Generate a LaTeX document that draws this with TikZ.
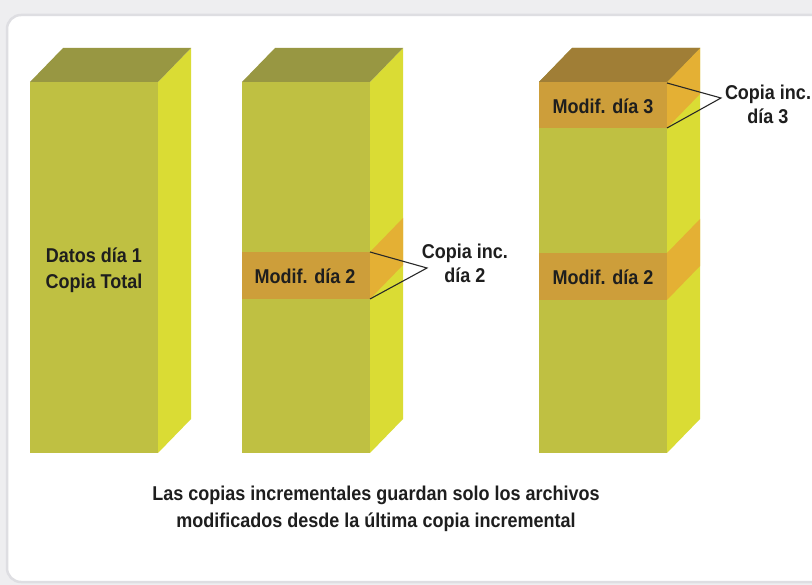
\documentclass[tikz,border=0pt]{standalone}
\usepackage{fontspec}
\setmainfont{Liberation Sans}[FakeStretch=0.9]
\definecolor{bgc}{RGB}{238,238,240}
\definecolor{framec}{RGB}{222,222,226}
\definecolor{frontc}{RGB}{191,192,66}
\definecolor{sidec}{RGB}{218,220,52}
\definecolor{topc}{RGB}{152,151,66}
\definecolor{bandf}{RGB}{205,158,58}
\definecolor{bands}{RGB}{228,176,52}
\definecolor{topband}{RGB}{160,126,54}
\definecolor{txt}{RGB}{30,30,30}
\definecolor{linec}{RGB}{40,40,40}
\tikzset{
  lbl/.style={font=\fontsize{20}{25}\selectfont\bfseries, text=txt, align=center, inner sep=0pt},
  conn/.style={draw=linec, line width=1.1pt}
}
\begin{document}
\begin{tikzpicture}[x=1pt,y=-1pt]
\useasboundingbox (0,0) rectangle (812,585);
% background and card
\fill[bgc] (0,0) rectangle (812,585);
\draw[framec, line width=2.5pt, fill=white, rounded corners=14pt] (7,15) rectangle (850,582);
% boxes
\foreach \x in {30,242,539} {
  \fill[frontc] (\x,82) rectangle ++(128,371);
  \fill[sidec] (\x+128,82) -- ++(33,-34) -- ++(0,371) -- ++(-33,34) -- cycle;
  \fill[topc] (\x,82) -- ++(33,-34) -- ++(128,0) -- ++(-33,34) -- cycle;
}
% box 2 band
\fill[bandf] (242,252) rectangle (370,299);
\fill[bands] (370,252) -- (403,218) -- (403,265) -- (370,299) -- cycle;
% box 3 lower band
\fill[bandf] (539,253) rectangle (667,300);
\fill[bands] (667,253) -- (700,219) -- (700,266) -- (667,300) -- cycle;
% box 3 top band
\fill[bandf] (539,82) rectangle (667,128);
\fill[bands] (667,82) -- (700,48) -- (700,94) -- (667,128) -- cycle;
\fill[topband] (539,82) -- (572,48) -- (700,48) -- (667,82) -- cycle;
% texts
\node[lbl, font=\fontsize{20}{26}\selectfont\bfseries] (d1) at (94,270) {Datos día 1\\Copia Total};
\node[lbl] (m2) at (305,276) {Modif. día 2};
\node[lbl] (m3a) at (603,106) {Modif. día 3};
\node[lbl] (m3b) at (603,277) {Modif. día 2};
\node[lbl, font=\fontsize{20}{24}\selectfont\bfseries] (c2) at (465,263) {Copia inc.\\día 2};
\node[lbl, font=\fontsize{20}{24}\selectfont\bfseries] (c3) at (768,104) {Copia inc.\\día 3};
\node[lbl, font=\fontsize{20}{27}\selectfont\bfseries] (foot) at (376,509) {Las copias incrementales guardan solo los archivos\\modificados desde la última copia incremental};
% connectors
\coordinate (b2t) at (370,252);
\coordinate (b2b) at (370,299);
\coordinate (j2) at (427,268);
\coordinate (b3t) at (667,83);
\coordinate (b3b) at (667,128);
\coordinate (j3) at (721,98);
\draw[conn] (b2t) -- (j2) -- (b2b);
\draw[conn] (b3t) -- (j3) -- (b3b);
\end{tikzpicture}
\end{document}
